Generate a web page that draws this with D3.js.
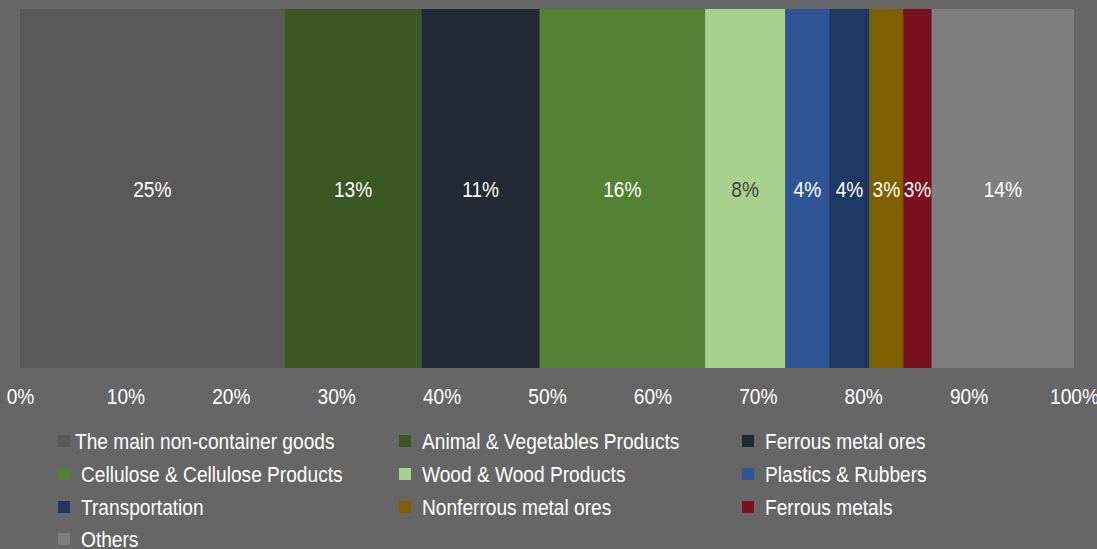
<!DOCTYPE html>
<html><head><meta charset="utf-8">
<script src="https://cdn.jsdelivr.net/npm/d3@7"></script>
<style>body{margin:0;background:#666666;}svg{display:block;font-family:"Liberation Sans",Arial,sans-serif;}</style>
</head><body><svg id="c" width="1097" height="549"></svg>
<script>
const categories = ["The main non-container goods","Animal & Vegetables Products","Ferrous metal ores","Cellulose & Cellulose Products","Wood & Wood Products","Plastics & Rubbers","Transportation","Nonferrous metal ores","Ferrous metals","Others"];
const values = [25.1, 13.0, 11.2, 15.7, 7.6, 4.2, 3.8, 3.2, 2.7, 13.5];
const colors = ["#595959","#3a5724","#222a35","#548235","#a9d18e","#2f5597","#1f3864","#7f6000","#7b101f","#7f7f7f"];
const labelColors = ["#fff","#fff","#fff","#fff","#404040","#fff","#fff","#fff","#fff","#fff"];
const tickValues = [0,10,20,30,40,50,60,70,80,90,100];

const FS = 22, SX = 0.87;
const svg = d3.select("#c");
const x = d3.scaleLinear().domain([0,100]).range([20,1074]);
const y = d3.scaleBand().domain(["bar"]).range([9,368]).padding(0);

let acc = 0;
const segs = values.map((v,i)=>{const s={i,v,x0:acc,x1:acc+v}; acc+=v; return s;});

svg.append("g").selectAll("rect").data(segs).join("rect")
  .attr("x",d=>x(d.x0)).attr("width",d=>x(d.x1)-x(d.x0))
  .attr("y",y("bar")).attr("height",y.bandwidth())
  .attr("fill",d=>colors[d.i]);

svg.append("g").selectAll("text").data(segs).join("text")
  .attr("transform",d=>`translate(${x((d.x0+d.x1)/2)},${y("bar")+y.bandwidth()/2}) scale(${SX},1)`)
  .attr("text-anchor","middle").attr("dominant-baseline","central")
  .attr("font-size",FS).attr("fill",d=>labelColors[d.i])
  .text(d=>Math.round(d.v)+"%");

const axis = d3.axisBottom(x).tickValues(tickValues).tickFormat(d=>d+"%").tickSize(0).tickPadding(0);
const ag = svg.append("g").attr("transform","translate(0,396)").call(axis);
ag.select(".domain").remove();
ag.selectAll("text").attr("font-size",FS).attr("fill","#fff").attr("font-family","Liberation Sans, Arial, sans-serif")
  .attr("y",0).attr("dy",null).attr("dominant-baseline","central").attr("transform",`scale(${SX},1)`);

const colX = [58,399,742];
const rowY = [441,474,507,539];
const lg = svg.append("g");
categories.forEach((c,i)=>{
  const col = i%3, row = Math.floor(i/3);
  const g = lg.append("g").attr("transform",`translate(${colX[col]},${rowY[row]})`);
  g.append("rect").attr("x",0).attr("y",-6).attr("width",12).attr("height",12).attr("fill",colors[i]);
  g.append("text").attr("transform",`translate(${i===0?17:23},0) scale(${SX},1)`).attr("dominant-baseline","central")
    .attr("font-size",FS).attr("fill","#fff").text(c);
});
</script></body></html>
